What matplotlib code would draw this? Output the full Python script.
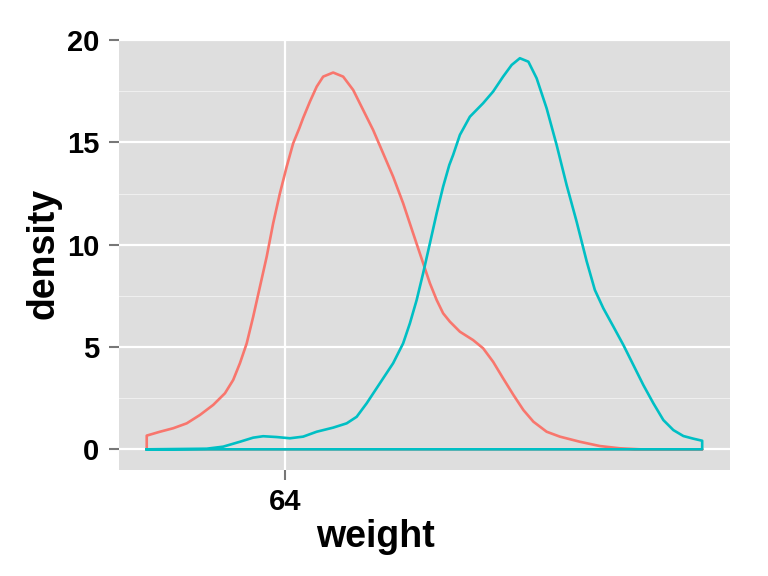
import matplotlib
matplotlib.use("Agg")
import matplotlib.pyplot as plt

# density curves (weight, density)
red_x = [63.9529, 63.9574, 63.9619, 63.9665, 63.9710, 63.9755, 63.9795, 63.9823,
         63.9846, 63.9869, 63.9891, 63.9914, 63.9937, 63.9959, 63.9982, 64.0005,
         64.0027, 64.0048, 64.0061, 64.0084, 64.0107, 64.0129, 64.0163, 64.0197,
         64.0231, 64.0265, 64.0299, 64.0333, 64.0367, 64.0401, 64.0435, 64.0469,
         64.0492, 64.0515, 64.0537, 64.0560, 64.0594, 64.0639, 64.0673, 64.0707,
         64.0741, 64.0776, 64.0810, 64.0844, 64.0889, 64.0934, 64.1002, 64.1070,
         64.1138, 64.1207, 64.1418]
red_y = [0.67, 0.86, 1.03, 1.27, 1.68, 2.17, 2.74, 3.39,
         4.21, 5.18, 6.48, 7.95, 9.42, 11.05, 12.52, 13.82,
         14.96, 15.70, 16.20, 17.00, 17.73, 18.22, 18.42, 18.22,
         17.57, 16.59, 15.61, 14.47, 13.33, 12.03, 10.56, 9.10,
         8.12, 7.30, 6.65, 6.24, 5.75, 5.34, 4.94, 4.28,
         3.47, 2.66, 1.92, 1.35, 0.86, 0.62, 0.37, 0.16,
         0.05, 0.0, 0.0]

teal_x = [63.9529, 63.9733, 63.9789, 63.9846, 63.9891, 63.9925, 63.9971, 64.0016,
          64.0061, 64.0107, 64.0163, 64.0209, 64.0243, 64.0277, 64.0322, 64.0367,
          64.0401, 64.0424, 64.0447, 64.0469, 64.0492, 64.0515, 64.0537, 64.0558,
          64.0571, 64.0594, 64.0628, 64.0673, 64.0707, 64.0741, 64.0770, 64.0798,
          64.0827, 64.0855, 64.0889, 64.0923, 64.0957, 64.0991, 64.1025, 64.1053,
          64.1082, 64.1116, 64.1150, 64.1184, 64.1218, 64.1252, 64.1286, 64.1320,
          64.1354, 64.1388, 64.1418]
teal_y = [0.0, 0.03, 0.13, 0.37, 0.57, 0.64, 0.60, 0.54,
          0.62, 0.86, 1.06, 1.27, 1.59, 2.25, 3.23, 4.21,
          5.18, 6.16, 7.30, 8.61, 10.07, 11.54, 12.84, 13.90,
          14.39, 15.37, 16.26, 16.92, 17.49, 18.22, 18.79, 19.12,
          18.95, 18.14, 16.67, 14.88, 12.92, 11.13, 9.20, 7.79,
          6.89, 6.00, 5.10, 4.12, 3.14, 2.25, 1.43, 0.94,
          0.65, 0.52, 0.42]

x_breaks = [64]
y_breaks = [0, 5, 10, 15, 20]
y_minor = [2.5, 7.5, 12.5, 17.5]

plt.rcParams["font.family"] = ["Liberation Sans", "DejaVu Sans"]

fig = plt.figure(figsize=(7.68, 5.76), dpi=100)
ax = fig.add_axes([0.1543, 0.184, 0.7956, 0.7483])
ax.set_facecolor("#dedede")

for v in y_minor:
    ax.axhline(v, color="#efefef", lw=0.8, zorder=0.5)
for v in y_breaks:
    ax.axhline(v, color="white", lw=1.6, zorder=0.6)
for v in x_breaks:
    ax.axvline(v, color="white", lw=1.6, zorder=0.6)


def outline(xs, ys):
    # closed density polygon like geom_density
    px = [xs[0]] + list(xs) + [xs[-1], xs[0]]
    py = [0] + list(ys) + [0, 0]
    return px, py


for xs, ys, col in [(red_x, red_y, "#F8766D"), (teal_x, teal_y, "#00BFC4")]:
    px, py = outline(xs, ys)
    ax.plot(px, py, color=col, lw=1.9, solid_joinstyle="round", zorder=2)

ax.set_xlim(63.9433, 64.1511)
ax.set_ylim(-1.012, 20.06)
ax.set_xticks(x_breaks)
ax.set_yticks(y_breaks)
ax.set_xticklabels([str(v) for v in x_breaks], fontsize=21, fontweight="bold")
ax.set_yticklabels([str(v) for v in y_breaks], fontsize=21, fontweight="bold")
ax.tick_params(length=7, width=1.5, color="#777777")
ax.tick_params(axis="y", pad=7)
ax.tick_params(axis="x", pad=6)
for s in ax.spines.values():
    s.set_visible(False)

fig.text(375 / 768, 1 - 547 / 576, "weight", ha="center", va="baseline",
         fontsize=27, fontweight="bold")
fig.text(43.5 / 768, 1 - 253 / 576, "density", ha="center", va="center",
         rotation=90, fontsize=27, fontweight="bold")

fig.savefig("out.png", dpi=100)
